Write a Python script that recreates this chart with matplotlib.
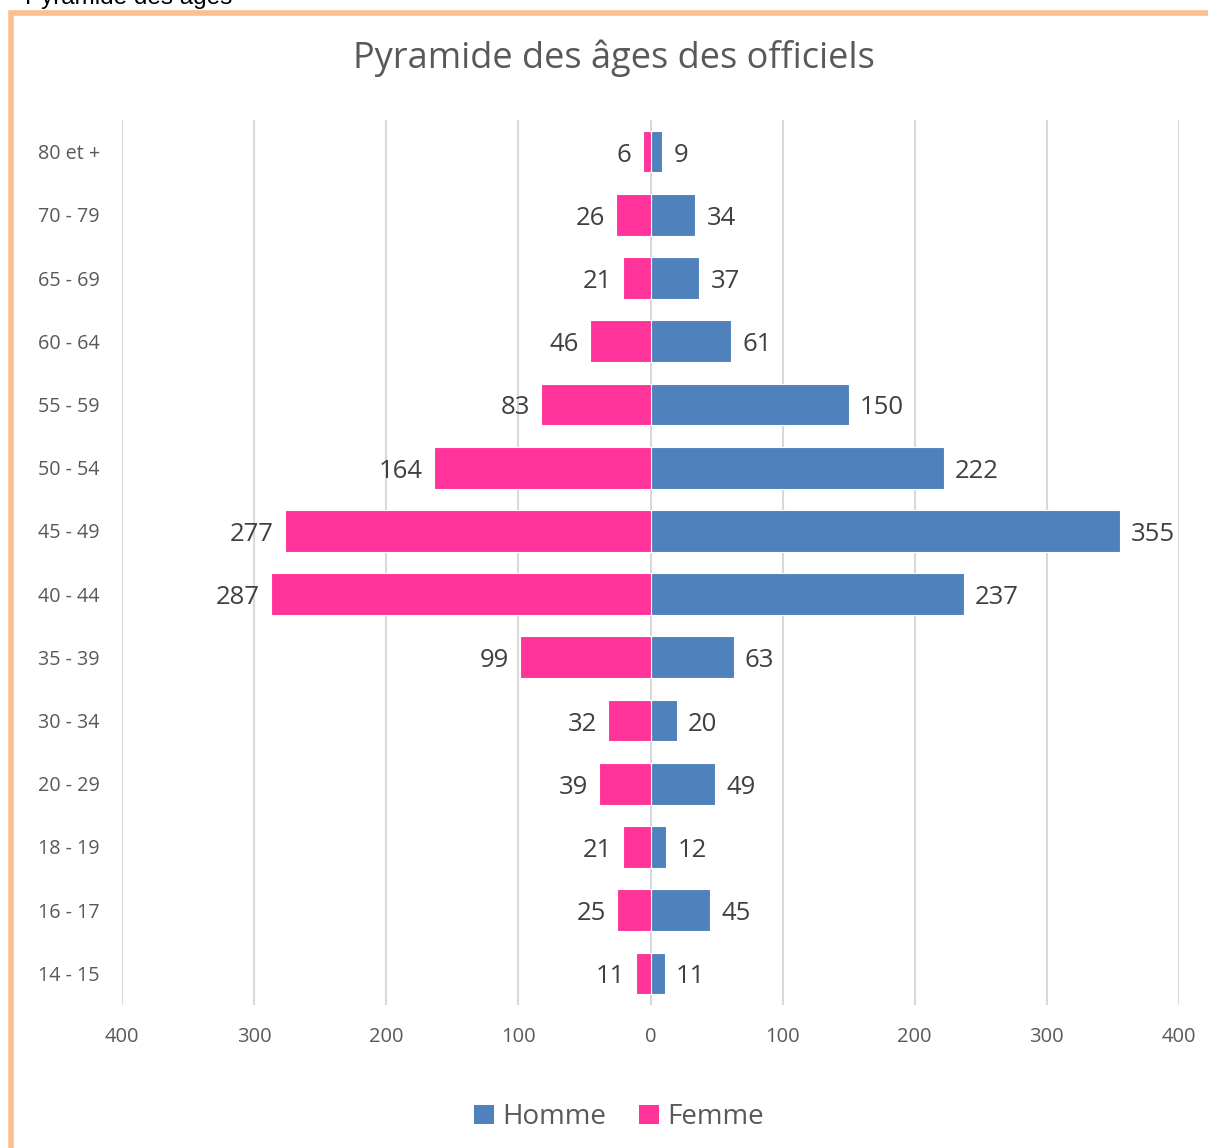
import matplotlib
matplotlib.use("Agg")
import matplotlib.pyplot as plt
from matplotlib.patches import Rectangle, Patch
from matplotlib.ticker import FuncFormatter

categories = ["14 - 15", "16 - 17", "18 - 19", "20 - 29", "30 - 34", "35 - 39",
              "40 - 44", "45 - 49", "50 - 54", "55 - 59", "60 - 64", "65 - 69",
              "70 - 79", "80 et +"]
homme = [11, 45, 12, 49, 20, 63, 237, 355, 222, 150, 61, 37, 34, 9]
femme = [11, 25, 21, 39, 32, 99, 287, 277, 164, 83, 46, 21, 26, 6]
xticks = [-400, -300, -200, -100, 0, 100, 200, 300, 400]

C_H = "#4F81BD"
C_F = "#FF3399"
TXT = "#595959"
FONT = "Open Sans"

W, H = 1208, 1148
fig = plt.figure(figsize=(W / 100, H / 100), dpi=100)
fig.patch.set_facecolor("white")

ax = fig.add_axes([122 / W, 1 - 1005 / H, (1179 - 122) / W, (1005 - 120) / H])
y = list(range(len(categories)))
bh = 0.66
ax.barh(y, homme, height=bh, color=C_H, edgecolor="white", linewidth=0.8, zorder=3, label="Homme")
ax.barh(y, [-v for v in femme], height=bh, color=C_F, edgecolor="white", linewidth=0.8, zorder=3, label="Femme")

for yi, v in zip(y, homme):
    ax.annotate(str(v), (v, yi), xytext=(8, -2.5), textcoords="offset points",
                ha="left", va="center", fontsize=18.5, color="#404040", family=FONT)
for yi, v in zip(y, femme):
    ax.annotate(str(v), (-v, yi), xytext=(-8, -2.5), textcoords="offset points",
                ha="right", va="center", fontsize=18.5, color="#404040", family=FONT)

ax.set_xlim(-400, 400)
ax.set_ylim(-0.5, 13.5)
ax.set_xticks(xticks)
ax.xaxis.set_major_formatter(FuncFormatter(lambda v, p: f"{abs(int(v))}"))
ax.set_yticks(y)
ax.set_yticklabels(categories)
for lab in ax.get_yticklabels():
    lab.set_horizontalalignment("left")
    lab.set_family(FONT)
for lab in ax.get_xticklabels():
    lab.set_family(FONT)
ax.tick_params(axis="y", length=0, pad=84 * 0.72, labelsize=14.2, labelcolor=TXT)
ax.tick_params(axis="x", length=0, pad=16, labelsize=14.5, labelcolor=TXT)
ax.grid(axis="x", color="#D9D9D9", linewidth=1.5, zorder=0)
for s in ax.spines.values():
    s.set_visible(False)

fig.text(614 / W, 1 - 58 / H, "Pyramide des âges des officiels", ha="center", va="center",
         fontsize=26, color=TXT, family=FONT)

handles = [Patch(facecolor=C_H, label="Homme"), Patch(facecolor=C_F, label="Femme")]
fig.legend(handles=handles, loc="center", bbox_to_anchor=(619 / W, 1 - 1117 / H), ncol=2,
           frameon=False, prop={"family": FONT, "size": 20}, labelcolor=TXT,
           handlelength=0.7, handleheight=0.7, handletextpad=0.3, columnspacing=1.2)

# orange chart border (partially outside the image)
fig.add_artist(Rectangle((11 / W, -0.2), 1.5, 1.2 - 13.5 / H, transform=fig.transFigure,
                         fill=False, edgecolor="#FBC08D", linewidth=4.0, clip_on=False))

fig.text(25 / W, 1 - 4 / H, "Pyramide des âges", ha="left", va="baseline",
         fontsize=17.5, color="black", family="Liberation Sans")

fig.savefig("out.png", dpi=100)
